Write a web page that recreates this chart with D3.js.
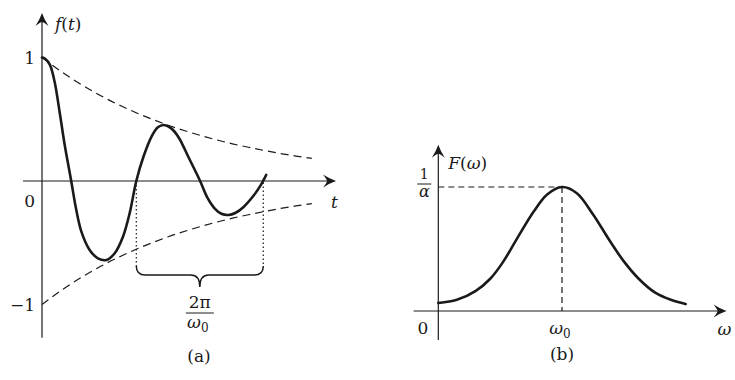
<!DOCTYPE html>
<html>
<head>
<meta charset="utf-8">
<script src="https://cdn.jsdelivr.net/npm/d3@7"></script>
<style>
  body { margin: 0; background: #fff; }
  svg { display: block; }
</style>
</head>
<body>
<svg id="svg" width="735" height="380"></svg>
<script>
// (a) damped oscillation f(t), t measured in quarter periods
const tValues = [0, 0.1, 0.25, 0.4, 0.56, 0.71, 0.92, 1.08, 1.24, 1.5, 1.76, 2.03, 2.29, 2.55, 2.76,
  2.97, 3.2, 3.45, 3.65, 3.84, 4.05, 4.3, 4.6, 4.98, 5.2, 5.45, 5.65, 5.87, 6.1, 6.35, 6.66, 6.9, 7.06];
const fValues = [1, 0.99, 0.94, 0.8, 0.55, 0.3, 0, -0.235, -0.41, -0.558, -0.626, -0.64, -0.585,
  -0.451, -0.262, 0, 0.2, 0.36, 0.435, 0.453, 0.43, 0.355, 0.2, 0, -0.13, -0.225, -0.265, -0.275,
  -0.257, -0.21, -0.12, -0.03, 0.049];
// envelope +-e^{-at}
const envT = [0, 0.5, 1, 1.5, 2, 2.5, 3, 3.5, 4, 4.5, 5, 5.5, 6, 6.5, 7, 7.5, 8, 8.5];
const envValues = [1, 0.905, 0.819, 0.741, 0.67, 0.607, 0.549, 0.497, 0.449, 0.407, 0.368, 0.333,
  0.301, 0.273, 0.247, 0.223, 0.202, 0.183];
const ticksA = [1, -1];
const tickLabelsA = ["1", "\u22121"];
const periodStart = 2.97, periodEnd = 6.97;

// (b) spectrum F(w), w in units of w0
const wValues = [0, 0.15, 0.3, 0.42, 0.52, 0.634, 0.77, 0.88, 1, 1.12, 1.25, 1.39, 1.5, 1.62, 1.75, 1.88, 2];
const FValues = [0.065, 0.09, 0.16, 0.26, 0.39, 0.58, 0.8, 0.94, 1, 0.95, 0.78, 0.56, 0.4, 0.26, 0.15, 0.09, 0.056];
const peakW = 1, peakF = 1;

const INK = "#1a1a1a";
const SERIF = "'DejaVu Serif', 'Liberation Serif', 'Times New Roman', serif";
const svg = d3.select("#svg");

function arrow(x, y, angle) {
  svg.append("path")
    .attr("d", "M0,0 Q-6,-2 -13,-6.5 Q-9,-1.5 -9,0 Q-9,1.5 -13,6.5 Q-6,2 0,0Z")
    .attr("transform", `translate(${x},${y}) rotate(${angle})`)
    .attr("fill", INK);
}

function seg(x1, y1, x2, y2, width, dash) {
  return svg.append("line")
    .attr("x1", x1).attr("y1", y1).attr("x2", x2).attr("y2", y2)
    .attr("stroke", INK).attr("stroke-width", width)
    .attr("stroke-dasharray", dash || null);
}

function label(x, y, size, anchor) {
  return svg.append("text").attr("x", x).attr("y", y)
    .attr("font-family", SERIF).attr("fill", INK)
    .attr("font-size", size).attr("text-anchor", anchor || "start");
}

// ---------- panel (a) ----------
const xa = d3.scaleLinear().domain([0, 9]).range([42, 327.75]);
const ya = d3.scaleLinear().domain([-1, 1]).range([304.5, 57.5]);

seg(xa(-0.6), ya(0), xa(9.26) - 6, ya(0), 1.2);
seg(xa(0), ya(-1.27), xa(0), ya(1.36) + 6, 1.2);
arrow(xa(9.26), ya(0), 0);
arrow(xa(0), ya(1.36), -90);

const lineA = d3.line().x(d => xa(d[0])).y(d => ya(d[1])).curve(d3.curveCatmullRom.alpha(0.5));
const env = envT.map((t, i) => [t, envValues[i]]);

svg.append("path").datum(env).attr("d", lineA)
  .attr("fill", "none").attr("stroke", INK).attr("stroke-width", 1.2).attr("stroke-dasharray", "8,5");
svg.append("path").datum(env.map(d => [d[0], -d[1]])).attr("d", lineA)
  .attr("fill", "none").attr("stroke", INK).attr("stroke-width", 1.2).attr("stroke-dasharray", "8,5");

svg.append("path").datum(tValues.map((t, i) => [t, fValues[i]])).attr("d", lineA)
  .attr("fill", "none").attr("stroke", INK).attr("stroke-width", 2.6)
  .attr("stroke-linecap", "round");

// period marker
const bTop = 266, bMid = 275, bTip = 287;
const bx1 = xa(periodStart), bx2 = xa(periodEnd), bxm = (bx1 + bx2) / 2;
seg(bx1, ya(0) + 4, bx1, bTop, 1.2, "1.5,2.5");
seg(bx2, ya(0.02), bx2, bTop, 1.2, "1.5,2.5");
svg.append("path")
  .attr("d", `M${bx1},${bTop} Q${bx1},${bMid} ${bx1 + 9},${bMid} L${bxm - 9},${bMid} ` +
    `Q${bxm},${bMid} ${bxm},${bTip} Q${bxm},${bMid} ${bxm + 9},${bMid} L${bx2 - 9},${bMid} ` +
    `Q${bx2},${bMid} ${bx2},${bTop}`)
  .attr("fill", "none").attr("stroke", INK).attr("stroke-width", 1.5);

label(bxm, 308, 17, "middle").text("2\u03c0");
seg(bxm - 14, 313, bxm + 14, 313, 1);
const den = label(bxm - 2, 328, 17, "middle");
den.append("tspan").attr("font-style", "italic").text("\u03c9");
den.append("tspan").attr("font-size", 12).attr("dy", 4).text("0");

// labels (a)
svg.selectAll(".tickA").data(ticksA).join("text").attr("class", "tickA")
  .attr("x", xa(0) - 7).attr("y", d => ya(d) + 6)
  .attr("font-family", SERIF).attr("fill", INK)
  .attr("font-size", 17).attr("text-anchor", "end")
  .text((d, i) => tickLabelsA[i]);
label(xa(0) - 7, ya(0) + 26, 17, "end").text("0");
const fa = label(xa(0) + 13, 30, 17);
fa.append("tspan").attr("font-style", "italic").text("f");
fa.append("tspan").text("(");
fa.append("tspan").attr("font-style", "italic").text("t");
fa.append("tspan").text(")");
label(xa(9.26) - 5, ya(0) + 27, 17).attr("font-style", "italic").text("t");
label(xa(0) + 157, 362, 17, "middle").text("(a)");

// ---------- panel (b) ----------
const xb = d3.scaleLinear().domain([0, 2]).range([438.3, 685.7]);
const yb = d3.scaleLinear().domain([0, 1]).range([311, 187]);

seg(xb(-0.2), yb(0), xb(2.33) - 6, yb(0), 1.2);
seg(xb(0), yb(-0.234), xb(0), yb(1.34) + 6, 1.2);
arrow(xb(2.33), yb(0), 0);
arrow(xb(0), yb(1.34), -90);

seg(xb(0), yb(peakF), xb(peakW), yb(peakF), 1.2, "6,4");
seg(xb(peakW), yb(peakF), xb(peakW), yb(0), 1.2, "6,4");

const lineB = d3.line().x(d => xb(d[0])).y(d => yb(d[1])).curve(d3.curveCatmullRom.alpha(0.5));
svg.append("path").datum(wValues.map((w, i) => [w, FValues[i]])).attr("d", lineB)
  .attr("fill", "none").attr("stroke", INK).attr("stroke-width", 2.6)
  .attr("stroke-linecap", "round");

// labels (b)
const Fb = label(xb(0) + 10, 169, 17);
Fb.append("tspan").attr("font-style", "italic").text("F");
Fb.append("tspan").text("(");
Fb.append("tspan").attr("font-style", "italic").text("\u03c9");
Fb.append("tspan").text(")");
label(xb(0) - 14, 179, 14, "middle").text("1");
seg(xb(0) - 21, yb(peakF) - 3, xb(0) - 7, yb(peakF) - 3, 1);
label(xb(0) - 14, 197, 16, "middle").attr("font-style", "italic").text("\u03b1");
label(xb(0) - 10, yb(0) + 23, 17, "end").text("0");
const w0 = label(xb(peakW) - 2, yb(0) + 23, 17, "middle");
w0.append("tspan").attr("font-style", "italic").text("\u03c9");
w0.append("tspan").attr("font-size", 12).attr("dy", 4).text("0");
label(xb(2.33) - 9, yb(0) + 24, 17).attr("font-style", "italic").text("\u03c9");
label(xb(peakW), 360, 17, "middle").text("(b)");
</script>
</body>
</html>
